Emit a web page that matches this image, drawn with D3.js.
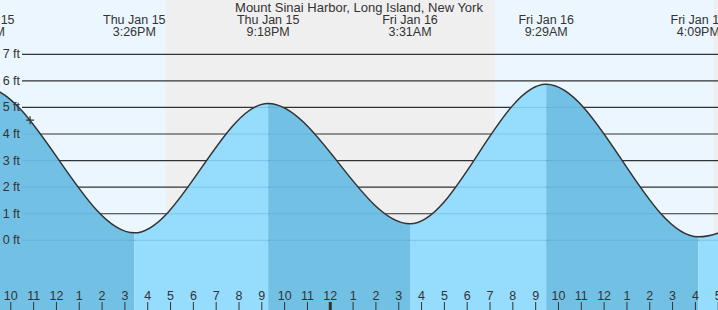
<!DOCTYPE html>
<html lang="en">
  <head>
    <meta charset="utf-8">
    <title>Mount Sinai Harbor tides</title>
    <script src="https://cdn.jsdelivr.net/npm/d3@7"></script>
    <style>
      body { margin: 0; }
      svg { display: block; font-family: "Liberation Sans", Arial, sans-serif; }
    </style>
  </head>
  <body>
    <svg width="718" height="310" id="mainsvg"></svg>
    <script>
      // tide extremes (times in local station time, heights in ft)
      const tideTimes = ['2026-01-15T02:35', '2026-01-15T08:49', '2026-01-15T15:26', '2026-01-15T21:18',
        '2026-01-16T03:31', '2026-01-16T09:29', '2026-01-16T16:09', '2026-01-16T22:25'];
      const tideHeights = [0.45, 5.77, 0.28, 5.15, 0.62, 5.87, 0.13, 5.2];
      const tideLabels = ['Thu Jan 15', 'Thu Jan 15', 'Thu Jan 15', 'Thu Jan 15', 'Fri Jan 16', 'Fri Jan 16', 'Fri Jan 16', 'Fri Jan 16'];
      const timeLabels = ['2:35AM', '8:49AM', '3:26PM', '9:18PM', '3:31AM', '9:29AM', '4:09PM', '10:25PM'];
      // sunset / sunrise
      const nightStart = ['2026-01-15T16:49', '2026-01-16T16:49'];
      const nightEnd = ['2026-01-16T07:14', '2026-01-17T07:14'];
      const yTicks = [0, 1, 2, 3, 4, 5, 6, 7];
      const nowTime = '2026-01-15T10:52';
      const nowHeight = 4.52;
      const title = 'Mount Sinai Harbor, Long Island, New York';

      const parse = s => new Date(s + ':00Z');
      const svg = d3.select('#mainsvg');
      const width = +svg.attr('width');
      const height = +svg.attr('height');

      // 比例尺 (22.82 px per hour)
      const xScale = d3.scaleUtc()
        .domain([parse('2026-01-15T10:00'), parse('2026-01-16T17:00')])
        .range([10.3, 10.3 + 31 * 22.82]);
      const yScale = d3.scaleLinear()
        .domain([0, 7])
        .range([240.3, 54.3]);

      const tides = tideTimes.map((t, i) => ({
        date: parse(t), h: tideHeights[i], day: tideLabels[i], time: timeLabels[i]
      }));

      // sky: day then night bands
      svg.append('rect').attr('width', width).attr('height', height).attr('fill', '#ebf6ff');
      nightStart.forEach((s, i) => {
        svg.append('rect')
          .attr('x', xScale(parse(s)))
          .attr('width', xScale(parse(nightEnd[i])) - xScale(parse(s)))
          .attr('y', 0).attr('height', height)
          .attr('fill', '#efefef');
      });

      // grid lines
      const grid = svg.append('g');
      yTicks.forEach(v => {
        grid.append('line')
          .attr('x1', 22).attr('x2', width)
          .attr('y1', yScale(v)).attr('y2', yScale(v))
          .attr('stroke', '#333').attr('stroke-width', 1.2);
      });

      // water
      const area = d3.area()
        .x(d => xScale(d.date))
        .y0(height)
        .y1(d => yScale(d.h))
        .curve(d3.curveMonotoneX);
      const line = d3.line()
        .x(d => xScale(d.date))
        .y(d => yScale(d.h))
        .curve(d3.curveMonotoneX);

      svg.append('clipPath').attr('id', 'water')
        .append('path').attr('d', area(tides));

      const water = svg.append('g').attr('clip-path', 'url(#water)');
      tides.slice(0, -1).forEach((d, i) => {
        const next = tides[i + 1];
        water.append('rect')
          .attr('x', xScale(d.date))
          .attr('width', xScale(next.date) - xScale(d.date))
          .attr('y', 0).attr('height', height)
          .attr('fill', d.h > next.h ? '#73c0e5' : '#96dcfd');
      });
      yTicks.forEach(v => {
        water.append('line')
          .attr('x1', 22).attr('x2', width)
          .attr('y1', yScale(v)).attr('y2', yScale(v))
          .attr('stroke', '#4a9fd0').attr('stroke-opacity', 0.35);
      });

      svg.append('path').attr('d', line(tides))
        .attr('fill', 'none').attr('stroke', '#333').attr('stroke-width', 1.5);

      // y labels
      yTicks.forEach(v => {
        svg.append('text')
          .attr('x', 20).attr('y', yScale(v) + 4)
          .attr('text-anchor', 'end')
          .attr('font-size', 12.5).attr('fill', '#333')
          .text(v + ' ft');
      });

      // now marker
      const nx = xScale(parse(nowTime)), ny = yScale(nowHeight);
      svg.append('path')
        .attr('d', `M${nx - 4},${ny}H${nx + 4}M${nx},${ny - 4}V${ny + 4}`)
        .attr('stroke', '#333').attr('stroke-width', 1.2);

      // 时间轴
      const xAxis = d3.axisBottom(xScale)
        .ticks(d3.utcHour.every(1))
        .tickFormat(d3.utcFormat('%-I'))
        .tickSize(8);
      const axisG = svg.append('g').attr('transform', 'translate(0, 302)').call(xAxis);
      axisG.select('.domain').remove();
      axisG.selectAll('.tick line').attr('stroke', '#333')
        .attr('stroke-width', d => d.getUTCHours() === 0 ? 3 : 1);
      axisG.selectAll('.tick text')
        .attr('y', -2).attr('dy', 0)
        .attr('font-size', 12.5).attr('fill', '#333')
        .attr('font-family', '"Liberation Sans", Arial, sans-serif');

      // extremes labels
      tides.forEach(d => {
        const x = xScale(d.date);
        svg.append('text').attr('x', x).attr('y', 24)
          .attr('text-anchor', 'middle').attr('font-size', 12.5).attr('fill', '#333')
          .text(d.day);
        svg.append('text').attr('x', x).attr('y', 36)
          .attr('text-anchor', 'middle').attr('font-size', 12.5).attr('fill', '#333')
          .text(d.time);
      });

      svg.append('text').text(title)
        .attr('x', width / 2).attr('y', 12)
        .attr('text-anchor', 'middle')
        .attr('font-size', 13).attr('fill', '#333');
    </script>
  </body>
</html>
